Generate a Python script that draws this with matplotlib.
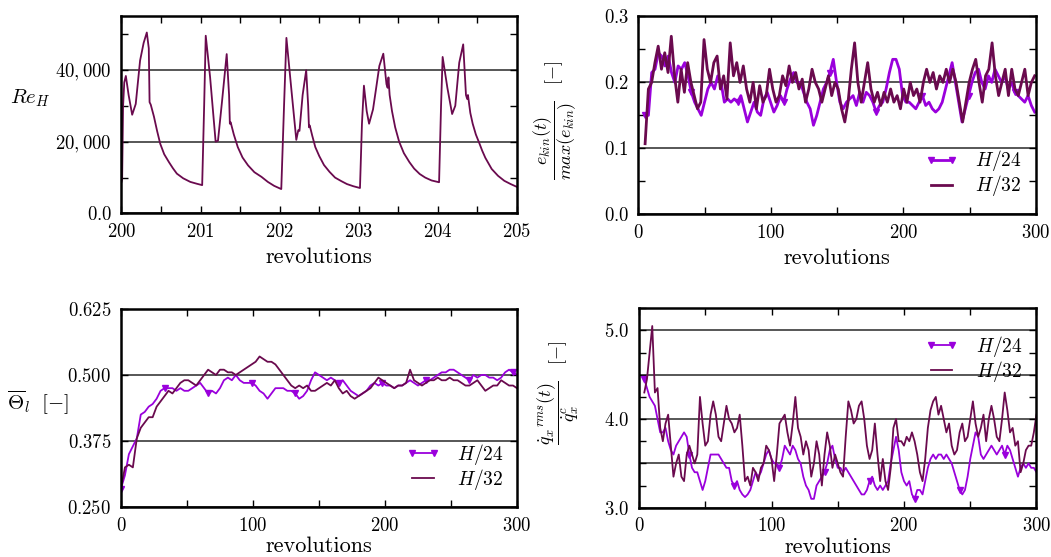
import numpy as np
import matplotlib
matplotlib.use('Agg')
import matplotlib.pyplot as plt
from matplotlib.ticker import FixedLocator, FixedFormatter

plt.rcParams['font.family'] = 'serif'
plt.rcParams['font.serif'] = ['cmr10']
plt.rcParams['mathtext.fontset'] = 'cm'
plt.rcParams['axes.unicode_minus'] = False

col24 = '#9a00dc'
col32 = '#6a0a4e'

# Re_H over revolutions 200-205 (H/32)
re_rev = [200.0, 200.008, 200.02, 200.035, 200.055, 200.09, 200.135, 200.18, 200.235, 200.28,
          200.32, 200.345, 200.355, 200.37, 200.41, 200.45, 200.49, 200.54, 200.6, 200.65,
          200.7, 200.78, 200.87, 200.95, 201.02,
          201.045, 201.065, 201.12, 201.19, 201.22, 201.27, 201.33, 201.36, 201.37, 201.38,
          201.42, 201.47, 201.53, 201.6, 201.68, 201.77, 201.85, 201.93, 202.02,
          202.055, 202.085, 202.15, 202.21, 202.235, 202.25, 202.29, 202.335, 202.36, 202.37,
          202.38, 202.41, 202.45, 202.5, 202.56, 202.63, 202.7, 202.78, 202.85, 202.93, 203.015,
          203.04, 203.065, 203.1, 203.13, 203.18, 203.22, 203.26, 203.31, 203.35, 203.365,
          203.375, 203.39, 203.42, 203.46, 203.51, 203.57, 203.64, 203.7, 203.77, 203.84,
          203.92, 204.015,
          204.04, 204.06, 204.12, 204.18, 204.22, 204.27, 204.32, 204.355, 204.37, 204.38,
          204.41, 204.44, 204.48, 204.52, 204.56, 204.6, 204.68, 204.76, 204.84, 204.92, 205.0]
re_h = [8800, 9500, 30000, 36500, 38300, 33000, 27500, 30500, 42600, 47500,
        50400, 46000, 31000, 30300, 27000, 23000, 19400, 16500, 14300, 12600,
        11100, 9800, 8800, 8300, 7900,
        30000, 49500, 38000, 20000, 20300, 31000, 44400, 33000, 25000, 25400,
        22000, 18500, 15600, 13400, 11500, 10200, 8800, 7700, 6800,
        30000, 48900, 34000, 20500, 23200, 23000, 33000, 39900, 30000, 24000,
        24500, 21800, 18500, 16000, 13500, 11600, 10000, 9000, 8200, 7600, 7100,
        25000, 35600, 28500, 25000, 29000, 35000, 41100, 44500, 36000, 35000,
        37900, 33000, 28500, 24000, 20000, 16800, 14300, 12500, 11000, 10000,
        9200, 8700,
        30000, 43600, 35000, 27700, 30000, 42000, 47100, 33000, 31900, 33000,
        28000, 25000, 22000, 19800, 17500, 15500, 12400, 10500, 9100, 8200, 7400]

# normalised kinetic energy, revolutions 5-299
ekin_h24 = [0.15, 0.15, 0.215, 0.22, 0.245, 0.24, 0.225, 0.24, 0.215, 0.20,
            0.225, 0.22, 0.23, 0.21, 0.185, 0.17, 0.16, 0.15, 0.17, 0.19,
            0.20, 0.19, 0.21, 0.20, 0.17, 0.175, 0.17, 0.175, 0.17, 0.18,
            0.16, 0.14, 0.155, 0.17, 0.155, 0.15, 0.175, 0.185, 0.17, 0.155,
            0.165, 0.18, 0.17, 0.19, 0.205, 0.215, 0.20, 0.20, 0.185, 0.17,
            0.16, 0.135, 0.15, 0.17, 0.19, 0.20, 0.215, 0.235, 0.20, 0.17,
            0.16, 0.17, 0.175, 0.18, 0.165, 0.185, 0.17, 0.185, 0.18, 0.17,
            0.155, 0.165, 0.17, 0.19, 0.215, 0.235, 0.235, 0.22, 0.18, 0.17,
            0.17, 0.165, 0.16, 0.17, 0.18, 0.165, 0.17, 0.16, 0.155, 0.16,
            0.17, 0.19, 0.21, 0.23, 0.20, 0.17, 0.14, 0.16, 0.18, 0.20,
            0.215, 0.22, 0.20, 0.19, 0.21, 0.20, 0.22, 0.21, 0.20, 0.21,
            0.19, 0.20, 0.185, 0.18, 0.175, 0.17, 0.18, 0.165, 0.155]
ekin_h32 = [0.107, 0.19, 0.20, 0.23, 0.255, 0.22, 0.245, 0.215, 0.27, 0.21,
            0.17, 0.22, 0.185, 0.23, 0.20, 0.18, 0.16, 0.17, 0.265, 0.22,
            0.20, 0.23, 0.24, 0.19, 0.21, 0.175, 0.26, 0.21, 0.23, 0.20,
            0.225, 0.19, 0.17, 0.20, 0.16, 0.195, 0.17, 0.18, 0.22, 0.19,
            0.17, 0.18, 0.21, 0.195, 0.225, 0.20, 0.215, 0.19, 0.205, 0.17,
            0.19, 0.22, 0.20, 0.19, 0.17, 0.19, 0.21, 0.18, 0.20, 0.19,
            0.16, 0.14, 0.17, 0.22, 0.26, 0.20, 0.17, 0.20, 0.23, 0.19,
            0.17, 0.185, 0.165, 0.185, 0.17, 0.19, 0.17, 0.18, 0.16, 0.19,
            0.17, 0.20, 0.18, 0.19, 0.17, 0.20, 0.22, 0.20, 0.215, 0.19,
            0.21, 0.20, 0.22, 0.20, 0.22, 0.20, 0.17, 0.14, 0.17, 0.20,
            0.22, 0.235, 0.20, 0.17, 0.21, 0.22, 0.26, 0.21, 0.18, 0.20,
            0.22, 0.18, 0.22, 0.19, 0.18, 0.20, 0.22, 0.18, 0.20, 0.21]

# mean liquid fraction, revolutions 0-300 every 3
theta_h24 = [0.285, 0.31, 0.35, 0.365, 0.38, 0.425, 0.43, 0.44, 0.445, 0.455,
             0.47, 0.475, 0.475, 0.475, 0.47, 0.475, 0.47, 0.47, 0.475, 0.48,
             0.485, 0.475, 0.465, 0.47, 0.465, 0.475, 0.49, 0.495, 0.49, 0.50,
             0.49, 0.485, 0.485, 0.485, 0.48, 0.47, 0.465, 0.455, 0.465, 0.475,
             0.475, 0.475, 0.47, 0.47, 0.465, 0.455, 0.46, 0.47, 0.49, 0.505,
             0.50, 0.495, 0.49, 0.495, 0.49, 0.485, 0.49, 0.48, 0.47, 0.465,
             0.46, 0.465, 0.47, 0.48, 0.485, 0.48, 0.485, 0.48, 0.48, 0.475,
             0.48, 0.48, 0.485, 0.49, 0.485, 0.48, 0.485, 0.49, 0.49, 0.495,
             0.50, 0.505, 0.505, 0.51, 0.51, 0.505, 0.50, 0.495, 0.49, 0.50,
             0.495, 0.50, 0.50, 0.495, 0.495, 0.49, 0.495, 0.505, 0.51, 0.505,
             0.50]
theta_h32 = [0.285, 0.325, 0.33, 0.325, 0.38, 0.40, 0.41, 0.42, 0.42, 0.44,
             0.45, 0.46, 0.47, 0.465, 0.475, 0.485, 0.49, 0.49, 0.485, 0.48,
             0.49, 0.50, 0.51, 0.505, 0.50, 0.51, 0.51, 0.505, 0.505, 0.50,
             0.505, 0.51, 0.515, 0.52, 0.525, 0.535, 0.53, 0.525, 0.525, 0.52,
             0.51, 0.50, 0.49, 0.48, 0.475, 0.48, 0.475, 0.48, 0.47, 0.47,
             0.475, 0.48, 0.485, 0.48, 0.49, 0.475, 0.465, 0.47, 0.46, 0.455,
             0.46, 0.465, 0.47, 0.475, 0.485, 0.495, 0.49, 0.485, 0.48, 0.475,
             0.48, 0.48, 0.485, 0.51, 0.49, 0.485, 0.48, 0.485, 0.49, 0.49,
             0.495, 0.49, 0.49, 0.495, 0.49, 0.49, 0.485, 0.48, 0.48, 0.485,
             0.49, 0.48, 0.47, 0.475, 0.48, 0.48, 0.49, 0.485, 0.48, 0.48,
             0.475]

# rms heat flux ratio, revolutions 4-300 every 2
qx_h24 = [4.45, 4.35, 4.25, 4.2, 4.15, 4.0, 3.85, 3.85, 3.9, 3.75,
          3.65, 3.6, 3.7, 3.75, 3.8, 3.85, 3.8, 3.6, 3.45, 3.4,
          3.4, 3.3, 3.2, 3.3, 3.45, 3.6, 3.6, 3.6, 3.6, 3.55,
          3.5, 3.45, 3.45, 3.3, 3.25, 3.3, 3.2, 3.15, 3.12, 3.15,
          3.2, 3.3, 3.4, 3.35, 3.4, 3.5, 3.6, 3.65, 3.55, 3.5,
          3.5, 3.45, 3.55, 3.7, 3.65, 3.6, 3.7, 3.65, 3.55, 3.5,
          3.35, 3.25, 3.2, 3.1, 3.1, 3.25, 3.3, 3.35, 3.4, 3.5,
          3.65, 3.7, 3.55, 3.45, 3.45, 3.4, 3.45, 3.4, 3.35, 3.3,
          3.25, 3.2, 3.15, 3.15, 3.2, 3.3, 3.35, 3.25, 3.2, 3.25,
          3.2, 3.25, 3.3, 3.5, 3.65, 3.8, 3.65, 3.4, 3.3, 3.25,
          3.3, 3.15, 3.1, 3.2, 3.2, 3.15, 3.3, 3.45, 3.55, 3.6,
          3.55, 3.6, 3.6, 3.55, 3.6, 3.55, 3.5, 3.4, 3.3, 3.2,
          3.15, 3.2, 3.35, 3.55, 3.7, 3.85, 3.8, 3.6, 3.55, 3.6,
          3.65, 3.7, 3.65, 3.6, 3.65, 3.7, 3.6, 3.7, 3.65, 3.55,
          3.45, 3.35, 3.45, 3.5, 3.45, 3.5, 3.45, 3.45, 3.4]
qx_h32 = [4.3, 4.45, 4.75, 5.05, 4.3, 4.35, 3.9, 3.75, 3.95, 4.05,
          3.7, 3.35, 3.5, 3.6, 3.35, 3.3, 3.6, 3.7, 3.6, 3.5,
          3.6, 4.25, 3.95, 3.7, 3.75, 4.05, 4.2, 4.05, 3.8, 3.75,
          3.95, 4.15, 4.0, 3.95, 3.85, 3.9, 4.05, 3.7, 3.3, 3.35,
          3.25, 3.45, 3.4, 3.3, 3.45, 3.5, 3.7, 3.65, 3.55, 3.3,
          3.6, 3.95, 4.0, 4.05, 3.85, 3.7, 3.95, 4.25, 3.9, 3.8,
          3.6, 3.75, 3.65, 3.35, 3.5, 3.75, 3.6, 3.25, 3.6, 3.85,
          3.7, 3.45, 3.6, 3.5, 3.4, 3.35, 3.8, 4.2, 4.1, 3.95,
          4.0, 4.15, 4.2, 4.0, 3.7, 3.55, 3.65, 3.95, 3.6, 3.3,
          3.55, 3.3, 3.2, 3.45, 3.9, 4.0, 3.75, 3.75, 3.7, 3.8,
          3.75, 3.85, 3.75, 3.6, 3.4, 3.3, 3.55, 3.9, 4.1, 4.2,
          4.25, 4.05, 4.15, 4.0, 3.85, 3.95, 3.7, 3.6, 3.65, 3.85,
          3.95, 3.75, 3.8, 4.0, 4.2, 3.95, 3.8, 3.9, 4.05, 3.75,
          4.0, 4.15, 4.0, 3.8, 3.75, 4.0, 4.3, 4.1, 3.85, 3.9,
          3.7, 3.75, 3.4, 3.5, 3.65, 3.7, 3.7, 3.85, 4.05]

rev_ekin24 = np.linspace(5, 299, len(ekin_h24))
rev_ekin32 = np.linspace(5, 299, len(ekin_h32))
rev_theta = np.linspace(0, 300, len(theta_h24))
rev_qx = np.linspace(4, 300, len(qx_h24))


def style(ax, xmaj, xmin, ymaj, ylab, ymin=None, xlab_y=-0.22):
    ax.xaxis.set_major_locator(FixedLocator(xmaj))
    ax.xaxis.set_major_formatter(FixedFormatter(['$%g$' % v for v in xmaj]))
    ax.xaxis.set_minor_locator(FixedLocator(xmin))
    ax.yaxis.set_major_locator(FixedLocator(ymaj))
    ax.yaxis.set_major_formatter(FixedFormatter(ylab))
    if ymin is not None:
        ax.yaxis.set_minor_locator(FixedLocator(ymin))
    ax.tick_params(which='both', direction='in', top=True, right=True,
                   length=5, width=1.0, labelsize=13.5, pad=7)
    ax.yaxis.grid(True, which='major', color='#3a3a3a', lw=1.2)
    ax.set_axisbelow(True)
    for s in ax.spines.values():
        s.set_linewidth(1.8)
    ax.set_xlabel('revolutions', fontsize=16)
    ax.xaxis.set_label_coords(0.5, xlab_y)
    ax.xaxis.label.set_va('center')


def legend(ax, **kw):
    ax.legend(frameon=False, fontsize=14, numpoints=2, handlelength=1.7,
              handletextpad=0.9, labelspacing=0.0, borderpad=0,
              borderaxespad=0, **kw)


fig = plt.figure(figsize=(10.51, 5.57), dpi=100)
ax1 = fig.add_axes([0.1156, 0.6167, 0.3763, 0.3546])
ax2 = fig.add_axes([0.6075, 0.6153, 0.3782, 0.3551])
ax3 = fig.add_axes([0.1151, 0.0898, 0.3768, 0.3555])
ax4 = fig.add_axes([0.6080, 0.0885, 0.3782, 0.3580])

# Re_H
ax1.plot(re_rev, re_h, color=col32, lw=1.3)
ax1.set_xlim(200, 205)
ax1.set_ylim(0, 55000)
style(ax1, [200, 201, 202, 203, 204, 205], [200.5, 201.5, 202.5, 203.5, 204.5],
      [0, 20000, 40000], ['$0.0$', '$20,000$', '$40,000$'], [10000, 30000, 50000])
ax1.set_ylabel('$Re_H$', fontsize=15, rotation=0)
ax1.yaxis.set_label_coords(-0.23, 0.585)
ax1.yaxis.label.set_va('center')

# kinetic energy
ax2.plot(rev_ekin24, ekin_h24, color=col24, lw=2.0, marker='v', ms=5,
         markevery=14, label='$H/24$')
ax2.plot(rev_ekin32, ekin_h32, color=col32, lw=2.0, label='$H/32$')
ax2.set_xlim(0, 300)
ax2.set_ylim(0, 0.3)
style(ax2, [0, 100, 200, 300], [50, 150, 250], [0, 0.1, 0.2, 0.3],
      ['$0.0$', '$0.1$', '$0.2$', '$0.3$'], [0.05, 0.15, 0.25])
ax2.set_ylabel(r'$\dfrac{e_{kin}(t)}{max(e_{kin})}\quad[-]$', fontsize=13)
ax2.yaxis.set_label_coords(-0.15, 0.477)
legend(ax2, loc='lower right', bbox_to_anchor=(0.965, 0.08))

# liquid fraction
ax3.plot(rev_theta, theta_h24, color=col24, lw=1.3, marker='v', ms=5,
         markevery=11, label='$H/24$')
ax3.plot(rev_theta, theta_h32, color=col32, lw=1.3, label='$H/32$')
ax3.set_xlim(0, 300)
ax3.set_ylim(0.25, 0.625)
style(ax3, [0, 100, 200, 300], [50, 150, 250], [0.25, 0.375, 0.5, 0.625],
      ['$0.250$', '$0.375$', '$0.500$', '$0.625$'], xlab_y=-0.2)
ax3.set_ylabel(r'$\overline{\Theta}_l\ \ [-]$', fontsize=15, rotation=0)
ax3.yaxis.set_label_coords(-0.21, 0.53)
ax3.yaxis.label.set_va('center')
legend(ax3, loc='lower right', bbox_to_anchor=(0.967, 0.075))

# heat flux
ax4.plot(rev_qx, qx_h24, color=col24, lw=1.3, marker='v', ms=5,
         markevery=17, label='$H/24$')
ax4.plot(rev_qx, qx_h32, color=col32, lw=1.3, label='$H/32$')
ax4.set_xlim(0, 300)
ax4.set_ylim(3.0, 5.25)
style(ax4, [0, 100, 200, 300], [50, 150, 250], [3.0, 3.5, 4.0, 4.5, 5.0],
      ['$3.0$', '', '$4.0$', '', '$5.0$'], [3.25, 3.75, 4.25, 4.75, 5.25],
      xlab_y=-0.2)
ax4.set_ylabel(r'$\dfrac{\dot{q}_x{}^{rms}(t)}{\dot{q}_x^{c}}\quad[-]$', fontsize=13)
ax4.yaxis.set_label_coords(-0.145, 0.575)
legend(ax4, loc='upper right', bbox_to_anchor=(0.965, 0.87))

fig.savefig('out.png', dpi=100)
